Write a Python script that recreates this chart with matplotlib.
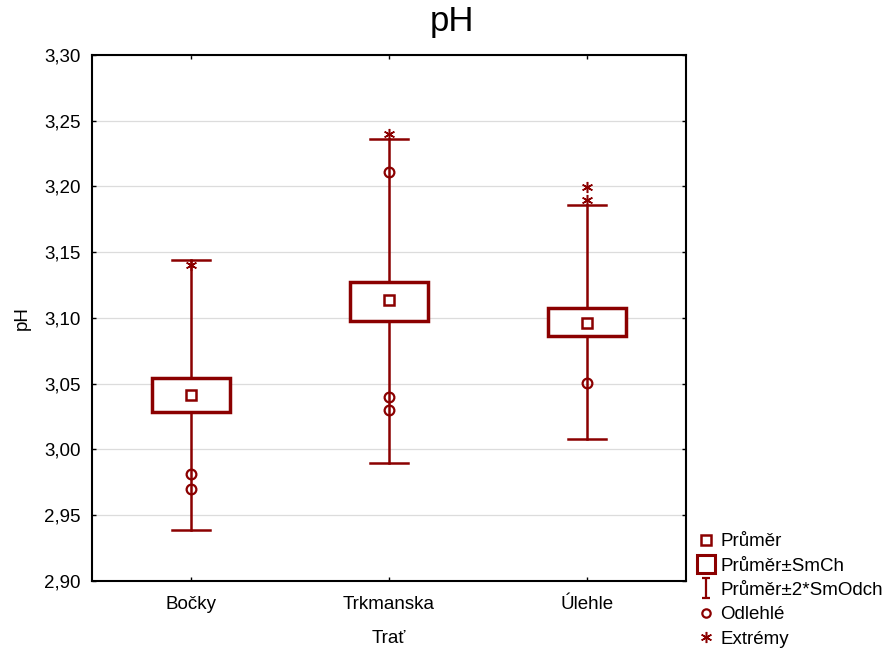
import matplotlib
matplotlib.use("Agg")
import matplotlib.pyplot as plt
from matplotlib.lines import Line2D
from matplotlib.path import Path
from matplotlib.patches import Rectangle
from matplotlib.ticker import FuncFormatter, MultipleLocator

plt.rcParams['font.family'] = ['Liberation Sans', 'DejaVu Sans']

categories = ["Bočky", "Trkmanska", "Úlehle"]
means = [3.0414, 3.1137, 3.0962]
box_low = [3.0285, 3.0977, 3.0863]
box_high = [3.0540, 3.1274, 3.1076]
whisk_low = [2.939, 2.990, 3.008]
whisk_high = [3.144, 3.236, 3.186]
outliers = [[2.981, 2.970], [3.211, 3.040, 3.030], [3.0506]]
extremes = [[3.140], [3.240], [3.1996, 3.190]]

legend_labels = ["Průměr", "Průměr±SmCh", "Průměr±2*SmOdch", "Odlehlé", "Extrémy"]

col = "#8b0000"
fs = 13.5
fig = plt.figure(figsize=(8.88, 6.5), dpi=100)
ax = fig.add_axes([92/888, 1-581/650, (686-92)/888, (581-55)/650])

box_hw = 0.197
cap_hw = 0.098
for i in range(len(categories)):
    ax.plot([i, i], [whisk_low[i], box_low[i]], color=col, lw=1.8, zorder=2)
    ax.plot([i, i], [box_high[i], whisk_high[i]], color=col, lw=1.8, zorder=2)
    ax.plot([i-cap_hw, i+cap_hw], [whisk_low[i]]*2, color=col, lw=1.8, zorder=2)
    ax.plot([i-cap_hw, i+cap_hw], [whisk_high[i]]*2, color=col, lw=1.8, zorder=2)
    ax.add_patch(Rectangle((i-box_hw, box_low[i]), 2*box_hw, box_high[i]-box_low[i],
                           facecolor='white', edgecolor=col, lw=2.5, zorder=3))
    ax.plot([i], [means[i]], marker='s', ms=6.5, mfc='none', mec=col, mew=1.8, zorder=4)
    ax.plot([i]*len(outliers[i]), outliers[i], ls='none', marker='o', ms=7, mfc='none',
            mec=col, mew=1.6, zorder=4)
    ax.plot([i]*len(extremes[i]), extremes[i], ls='none', marker=(6, 2, 0), ms=8,
            mec=col, mew=1.1, zorder=4)

ax.set_xlim(-0.5, 2.5)
ax.set_ylim(2.90, 3.30)
ax.set_xticks(range(len(categories)))
ax.set_xticklabels(categories)
ax.yaxis.set_major_locator(MultipleLocator(0.05))
ax.yaxis.set_major_formatter(FuncFormatter(lambda v, p: f"{v:.2f}".replace('.', ',')))
ax.grid(axis='y', color='#dcdcdc', lw=0.9, zorder=0)
ax.set_axisbelow(True)
ax.tick_params(direction='in', length=3, width=1, labelsize=fs, top=True, right=True,
               pad=8)
ax.tick_params(axis='x', pad=11)
for s in ax.spines.values():
    s.set_linewidth(1.5)
fig.suptitle("pH", fontsize=25, x=452/888, y=1-22/650, va='center')
ax.set_ylabel("pH", fontsize=fs, labelpad=10)
ax.set_xlabel("Trať", fontsize=fs, labelpad=12)

ibar = Path([(-0.35, -1), (0.35, -1), (0, -1), (0, 1), (-0.35, 1), (0.35, 1)],
            [Path.MOVETO, Path.LINETO, Path.MOVETO, Path.LINETO, Path.MOVETO, Path.LINETO])
handles = [
    Line2D([], [], ls='none', marker='s', ms=6.5, mfc='none', mec=col, mew=1.8),
    Line2D([], [], ls='none', marker='s', ms=13, mfc='none', mec=col, mew=2.2),
    Line2D([], [], ls='none', marker=ibar, ms=15, mfc='none', mec=col, mew=1.6),
    Line2D([], [], ls='none', marker='o', ms=6, mfc='none', mec=col, mew=1.6),
    Line2D([], [], ls='none', marker=(6, 2, 0), ms=8, mec=col, mew=1.1),
]
fig.legend(handles, legend_labels, loc='upper left', bbox_to_anchor=(698/888, 1-533/650),
           frameon=False, fontsize=fs, handlelength=0.8, handletextpad=0.4,
           labelspacing=0.39, borderaxespad=0, borderpad=0)

fig.savefig("out.png", dpi=100)
